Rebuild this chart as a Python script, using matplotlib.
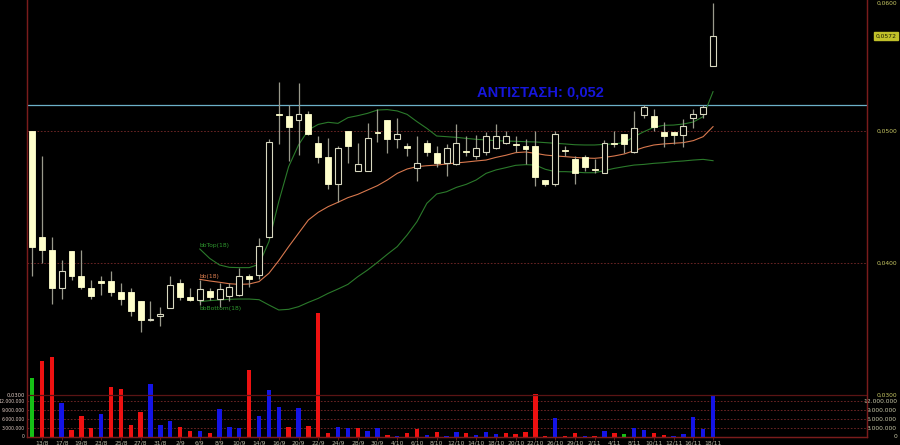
import matplotlib
matplotlib.use('Agg')
import matplotlib.pyplot as plt
from matplotlib.patches import Rectangle
import numpy as np

# ---------------- data ----------------
dates = ["12/8", "13/8", "16/8", "17/8", "18/8", "19/8", "20/8", "23/8", "24/8", "25/8",
         "26/8", "27/8", "30/8", "31/8", "1/9", "2/9", "3/9", "6/9", "7/9", "8/9",
         "9/9", "10/9", "13/9", "14/9", "15/9", "16/9", "17/9", "20/9", "21/9", "22/9",
         "23/9", "24/9", "27/9", "28/9", "29/9", "30/9", "1/10", "4/10", "5/10", "6/10",
         "7/10", "8/10", "11/10", "12/10", "13/10", "14/10", "15/10", "18/10", "19/10", "20/10",
         "21/10", "22/10", "25/10", "26/10", "27/10", "29/10", "1/11", "2/11", "3/11", "4/11",
         "5/11", "8/11", "9/11", "10/11", "11/11", "12/11", "15/11", "16/11", "17/11", "18/11"]

opens = [0.0500, 0.0420, 0.0410, 0.0381, 0.0409, 0.0390, 0.0381, 0.0386, 0.0386, 0.0378,
         0.0378, 0.0371, 0.0357, 0.0360, 0.0366, 0.0385, 0.0374, 0.0372, 0.0379, 0.0373,
         0.0375, 0.0376, 0.0390, 0.0391, 0.0420, 0.0513, 0.0511, 0.0508, 0.0513, 0.0491,
         0.0480, 0.0460, 0.0500, 0.0470, 0.0470, 0.0499, 0.0508, 0.0494, 0.0489, 0.0472,
         0.0491, 0.0483, 0.0476, 0.0475, 0.04846, 0.0481, 0.0484, 0.0487, 0.0491, 0.0490,
         0.0489, 0.0489, 0.0463, 0.0460, 0.0485, 0.0479, 0.0480, 0.0471, 0.0468, 0.04905,
         0.0498, 0.0484, 0.0512, 0.0511, 0.0499, 0.0499, 0.0497, 0.0510, 0.0513, 0.0549]
highs = [0.0500, 0.0481, 0.0420, 0.0402, 0.0409, 0.0410, 0.0387, 0.0390, 0.0394, 0.0385,
         0.0381, 0.0371, 0.0371, 0.0367, 0.0390, 0.0388, 0.0381, 0.0387, 0.0381, 0.0385,
         0.0385, 0.0396, 0.0392, 0.0419, 0.0494, 0.0537, 0.0520, 0.0536, 0.0515, 0.0496,
         0.0495, 0.0489, 0.0500, 0.0491, 0.0506, 0.0517, 0.0508, 0.0510, 0.0491, 0.0496,
         0.0493, 0.0489, 0.0490, 0.0505, 0.0496, 0.0497, 0.0499, 0.0505, 0.0500, 0.0496,
         0.0494, 0.0500, 0.0463, 0.0500, 0.0489, 0.0481, 0.0482, 0.0479, 0.0493, 0.0500,
         0.0498, 0.0515, 0.0520, 0.0517, 0.0507, 0.0499, 0.0509, 0.0517, 0.0520, 0.0597]
lows = [0.0390, 0.0400, 0.0369, 0.0373, 0.0387, 0.0380, 0.0373, 0.0376, 0.0375, 0.0368,
        0.0360, 0.0348, 0.0356, 0.0352, 0.0366, 0.0372, 0.0371, 0.0368, 0.0372, 0.0367,
        0.0371, 0.0375, 0.0382, 0.0388, 0.0419, 0.0490, 0.0477, 0.0482, 0.0497, 0.0476,
        0.0456, 0.0446, 0.0476, 0.0470, 0.0470, 0.0492, 0.0483, 0.0487, 0.0481, 0.0462,
        0.0481, 0.0473, 0.0466, 0.0474, 0.0481, 0.0479, 0.0482, 0.0486, 0.0490, 0.0484,
        0.0475, 0.0458, 0.0458, 0.0458, 0.0481, 0.0460, 0.0470, 0.0468, 0.0468, 0.0488,
        0.0483, 0.0483, 0.0510, 0.0500, 0.0488, 0.0490, 0.0488, 0.0502, 0.0510, 0.0549]
closes = [0.0412, 0.0410, 0.0381, 0.0394, 0.0390, 0.0382, 0.0375, 0.0385, 0.0378, 0.0373,
          0.0364, 0.0357, 0.03575, 0.0361, 0.0383, 0.0374, 0.0372, 0.0380, 0.0374, 0.0380,
          0.0382, 0.0390, 0.0388, 0.0413, 0.0492, 0.0512, 0.0503, 0.0513, 0.0498, 0.0480,
          0.0460, 0.0487, 0.0489, 0.0475, 0.0495, 0.04985, 0.0494, 0.0498, 0.0487, 0.0476,
          0.0484, 0.0476, 0.0487, 0.0491, 0.0484, 0.0487, 0.0496, 0.0496, 0.0496, 0.04895,
          0.0486, 0.0465, 0.0460, 0.0498, 0.04845, 0.0468, 0.0473, 0.04705, 0.0491, 0.0490,
          0.0490, 0.0502, 0.0518, 0.0503, 0.0496, 0.0497, 0.0504, 0.0513, 0.0518, 0.0572]

volumes_m = [19.6, 25.4, 26.6, 11.4, 2.3, 7.0, 2.9, 7.6, 16.6, 16.0,
             4.0, 8.2, 17.6, 4.0, 5.4, 3.4, 2.1, 2.1, 1.2, 9.2,
             3.4, 3.1, 22.3, 7.0, 15.7, 10.1, 3.4, 9.8, 3.7, 41.4,
             1.4, 3.2, 3.1, 3.1, 2.1, 2.9, 0.7, 0.4, 1.4, 2.6,
             0.7, 1.8, 0.4, 1.6, 1.4, 0.7, 1.6, 0.9, 1.2, 0.9,
             1.6, 14.3, 0.3, 6.2, 0.3, 1.2, 0.3, 0.4, 2.1, 1.2,
             1.0, 2.9, 2.3, 1.2, 0.7, 0.3, 0.9, 6.8, 2.7, 14.0]
vol_dir = ("g r r b r r r b r r r r b b b r r b r b b b r b b b r b r r "
           "r b b r b b r b r r b r b b r b b b r r r r r b r r b r b r "
           "g b b r r b b b b b").split()

bb_start = 17
bb_top = [0.04106, 0.04035, 0.03985, 0.03967, 0.03965, 0.03965, 0.0399, 0.04162, 0.04465, 0.0473,
          0.04894, 0.05008, 0.0505, 0.05066, 0.05058, 0.05101, 0.05116, 0.05134, 0.05159, 0.05162,
          0.05152, 0.05126, 0.05071, 0.0502, 0.04962, 0.04957, 0.04952, 0.04944, 0.04937, 0.04932,
          0.04927, 0.04924, 0.04922, 0.04919, 0.04917, 0.04912, 0.04907, 0.04902, 0.04896, 0.04894,
          0.04894, 0.04899, 0.04902, 0.04912, 0.04957, 0.04995, 0.05028, 0.05043, 0.05045, 0.05053,
          0.05068, 0.05109, 0.05298]
bb_mid = [0.03876, 0.03864, 0.03854, 0.03843, 0.03838, 0.03841, 0.03859, 0.03922, 0.04018, 0.04124,
          0.04225, 0.04326, 0.04384, 0.04427, 0.0446, 0.04495, 0.0452, 0.04553, 0.04586, 0.04629,
          0.04679, 0.04712, 0.0473, 0.04737, 0.04742, 0.0475, 0.04758, 0.04765, 0.04773, 0.0478,
          0.048, 0.04816, 0.04836, 0.04841, 0.04831, 0.04818, 0.04811, 0.04806, 0.048, 0.04795,
          0.04793, 0.048, 0.04811, 0.04826, 0.04851, 0.04876, 0.04894, 0.04902, 0.04907, 0.04912,
          0.04927, 0.04957, 0.05033]
bb_bot = [0.03707, 0.03715, 0.0372, 0.03725, 0.03727, 0.03727, 0.03722, 0.03682, 0.03644, 0.03649,
          0.03669, 0.03702, 0.03732, 0.0377, 0.03803, 0.03838, 0.03896, 0.03947, 0.04005, 0.04066,
          0.04124, 0.04212, 0.04313, 0.04452, 0.04523, 0.0454, 0.04573, 0.04596, 0.04629, 0.04679,
          0.04705, 0.04722, 0.0474, 0.04745, 0.04742, 0.0471, 0.04692, 0.04692, 0.04689, 0.04684,
          0.04684, 0.047, 0.04717, 0.0473, 0.04742, 0.04747, 0.04755, 0.0476, 0.04768, 0.04773,
          0.0478, 0.04785, 0.04775]

resistance = 0.052
resistance_label = "ΑΝΤΙΣΤΑΣΗ: 0,052"
price_ticks = [0.060, 0.050, 0.040, 0.030]
price_tick_labels = ["0,0600", "0,0500", "0,0400", "0,0300"]
vol_ticks_m = [12, 9, 6, 3, 0]
vol_tick_labels = ["12.000.000", "9.000.000", "6.000.000", "3.000.000", "0"]
last_label = "0,0572"

# ---------------- styling ----------------
BG = 'black'
DARKRED = '#7a1c1c'
GRIDRED = '#7a2a2a'
CREAM = '#ffffcc'
HOLLOW_EDGE = '#d8d8c0'
WICK = '#9a9a8c'
VOLC = {'r': '#ee1111', 'b': '#1414e6', 'g': '#16c016'}

fig = plt.figure(figsize=(9, 4.45), dpi=100, facecolor=BG)
ax2 = fig.add_axes([27 / 900, 8 / 445, 840 / 900, 437 / 445])
ax = ax2.twinx()
ax.set_zorder(ax2.get_zorder() + 1)
ax.patch.set_visible(False)
ax2.set_facecolor(BG)

n = len(closes)
x = np.arange(n)
ax.set_xlim(-0.51, 84.6)
ax2.set_xlim(-0.51, 84.6)
ax.set_ylim(0.026818, 0.059924)
ax2.set_ylim(0, 145.67e6)

# volume
vols = np.array(volumes_m) * 1e6
ax2.bar(x, vols, width=0.44, color=[VOLC[c] for c in vol_dir], zorder=3, linewidth=0)
for v in vol_ticks_m[:-1]:
    ax2.axhline(v * 1e6, color=GRIDRED, lw=0.6, ls=(0, (2, 2)), zorder=1)

# price grid
for p in price_ticks:
    ax.axhline(p, color=GRIDRED, lw=0.6, ls=(0, (2, 2)), zorder=1, clip_on=False)
ax.axhline(0.030, color='#5a1414', lw=0.9, zorder=1)

# resistance
ax.axhline(resistance, color='#6cb0c8', lw=0.9, zorder=2)
ax.text(45.1, 0.05289, resistance_label, color='#1616dc', fontsize=10.5, fontweight='bold',
        family=['Liberation Sans', 'DejaVu Sans'], ha='left', va='center', zorder=6)

# bollinger bands
bx = np.arange(bb_start, bb_start + len(bb_mid))
ax.plot(bx, bb_top, color='#2b7a2b', lw=0.8, zorder=3)
ax.plot(bx, bb_mid, color='#d8784e', lw=0.8, zorder=3)
ax.plot(bx, bb_bot, color='#2b7a2b', lw=0.8, zorder=3)
ax.text(bb_start, 0.04136, "bbTop(18)", color='#2f9a2f', fontsize=4.3, ha='left', va='center', zorder=6)
ax.text(bb_start, 0.03898, "bb(18)", color='#e08050', fontsize=4.3, ha='left', va='center', zorder=6)
ax.text(bb_start, 0.03659, "bbBottom(18)", color='#2f9a2f', fontsize=4.3, ha='left', va='center', zorder=6)

# candles
w = 0.6
for i in range(n):
    o, h, l, c = opens[i], highs[i], lows[i], closes[i]
    ax.vlines(i, l, h, color=WICK, lw=0.9, zorder=4)
    lo = min(o, c)
    hgt = max(abs(c - o), 0.00009)
    if c < o:
        rect = Rectangle((i - w / 2, lo), w, hgt, facecolor=CREAM, edgecolor=CREAM, lw=0.6, zorder=5)
    else:
        rect = Rectangle((i - w / 2, lo), w, hgt, facecolor=BG, edgecolor=HOLLOW_EDGE, lw=0.8, zorder=5)
    ax.add_patch(rect)

# axes decorations
for a in (ax, ax2):
    a.set_yticks([])
    a.spines['top'].set_visible(False)
    for s in ('left', 'right', 'bottom'):
        a.spines[s].set_color(DARKRED)
        a.spines[s].set_linewidth(0.9)

ax2.set_xticks(x[1::2])
ax2.set_xticklabels([dates[i] for i in x[1::2]])
ax2.tick_params(axis='x', colors=DARKRED, length=2, width=0.6, labelsize=4.3,
                labelcolor='#b8b8a4', pad=0.5)
ax.tick_params(axis='x', bottom=False, labelbottom=False)

ytrans = ax.get_yaxis_transform()
vtrans = ax2.get_yaxis_transform()
for p, lab in zip(price_ticks, price_tick_labels):
    yy = min(p, 0.0597)
    ax.text(1.0357, yy, lab, transform=ytrans, color='#c8c864', fontsize=4.3,
            ha='right', va='center', clip_on=False)
ax.text(-0.0024, 0.030, "0,0300", transform=ytrans, color='#dcc8c0', fontsize=3.8,
        ha='right', va='center', clip_on=False)
for v, lab in zip(vol_ticks_m, vol_tick_labels):
    ax2.text(1.0357, v * 1e6, lab, transform=vtrans, color='#c8c8a8', fontsize=4.3,
             ha='right', va='center', clip_on=False)
    ax2.text(-0.0024, v * 1e6, lab, transform=vtrans, color='#dcc8c0', fontsize=3.3,
             ha='right', va='center', clip_on=False)

ax.text(1.0357, closes[-1], last_label, transform=ytrans, color='#1a1a00', fontsize=4.3,
        ha='right', va='center', clip_on=False,
        bbox=dict(boxstyle='square,pad=0.25', facecolor='#c0c02a', edgecolor='#c0c02a'))

fig.savefig('out.png', dpi=100, facecolor=BG)
